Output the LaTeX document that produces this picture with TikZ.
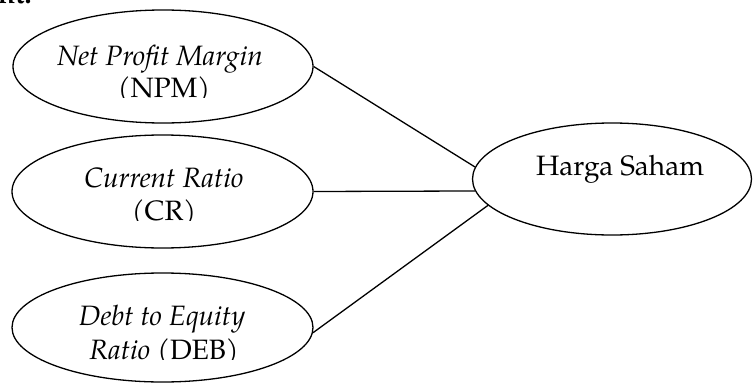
\documentclass[tikz,border=0pt]{standalone}
\usepackage{fontspec}
\setmainfont{TeX Gyre Pagella}
\usetikzlibrary{shapes.geometric}
\tikzset{
  ell/.style={draw, ellipse, line width=1.3pt, inner sep=0pt},
  conn/.style={line width=1.3pt},
  lbl/.style={anchor=base, inner sep=0pt, font=\fontsize{28}{32}\selectfont},
}
\begin{document}
\begin{tikzpicture}[x=1pt,y=-1pt]
\useasboundingbox (0,0) rectangle (753,383);
% partial text at top-left
\node[anchor=base west, inner sep=0pt, font=\fontsize{28}{32}\selectfont\bfseries] (frag) at (-2,3) {nt.};
% ellipses
\node[ell, minimum width=300pt, minimum height=113pt] (npm) at (163,66.5) {};
\node[ell, minimum width=301pt, minimum height=113pt] (cr) at (162.5,191.5) {};
\node[ell, minimum width=301pt, minimum height=109pt] (deb) at (162.5,327.5) {};
\node[ell, minimum width=279pt, minimum height=112pt] (hs) at (612,179) {};
% texts
\node[lbl] (t1) at (160,65) {\itshape Net Profit Margin};
\begin{scope}
\clip (0,60) rectangle (330,97.5);
\node[lbl] (t1b) at (164,97.5) {(NPM)};
\end{scope}
\node[lbl] (t2) at (164,187) {\itshape Current Ratio};
\begin{scope}
\clip (0,190) rectangle (330,220.5);
\node[lbl] (t2b) at (164,220.5) {(CR)};
\end{scope}
\node[lbl] (t3) at (162,325) {\itshape Debt to Equity};
\begin{scope}
\clip (0,330) rectangle (330,359.5);
\node[lbl] (t3b) at (164,359.5) {\textit{Ratio} (DEB)};
\end{scope}
\node[lbl] (t4) at (620,175) {Harga Saham};
% connectors
\draw[conn] (npm.east) -- (hs.175.5);
\draw[conn] (cr.east) -- (hs.185.3);
\draw[conn] (deb.-2) -- (hs.192.8);
\end{tikzpicture}
\end{document}
